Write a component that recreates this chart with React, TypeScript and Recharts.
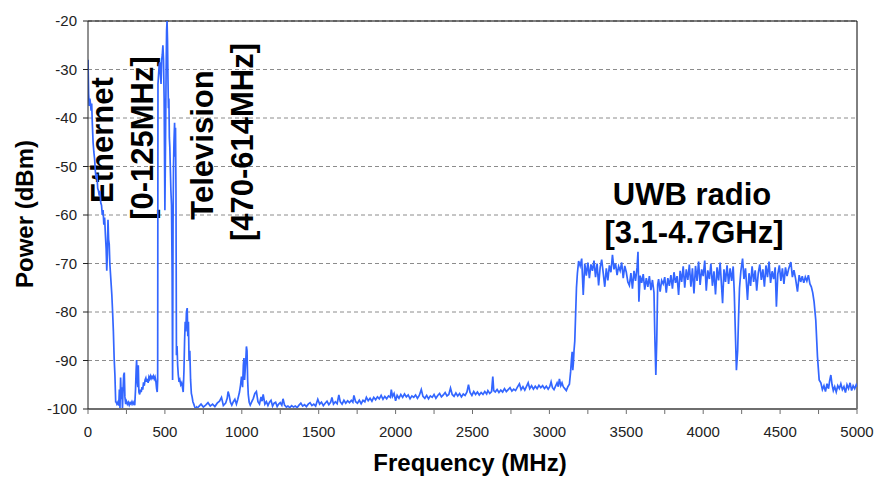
import React from 'react';
import { LineChart, Line, XAxis, YAxis, CartesianGrid, ReferenceLine, Customized } from 'recharts';

// Spectrum trace: [frequency MHz, power dBm]
const ethernetSeg: [number, number][] = [
  [0, -28], [4, -35], [8, -37.5], [12, -36], [16, -37], [20, -38.5], [24, -37], [28, -41], [33, -45], [38, -47],
  [43, -48.5], [48, -51], [53, -52.5], [58, -51.5], [63, -54.5], [68, -55], [73, -56], [78, -55], [83, -57.5],
  [88, -58], [93, -60], [98, -59], [103, -62], [108, -60.5], [113, -64], [118, -67], [122, -71.5], [126, -68],
  [130, -61], [134, -65], [138, -66], [142, -70], [146, -72], [150, -74], [155, -76.5], [160, -80], [165, -84],
  [170, -89.5], [175, -93], [180, -98.5],
];

const lowNoiseSeg: [number, number][] = [
  [182, -98.5], [188, -99], [194, -98.6], [200, -99.3], [204, -96], [208, -99.8], [212, -93.5], [216, -98],
  [220, -95.5], [224, -100], [228, -96], [232, -93], [236, -92.5], [240, -97.5], [245, -99], [250, -98.4],
  [256, -99], [262, -98.6], [268, -99.2], [274, -98.7], [280, -99], [286, -98.5], [292, -99], [298, -98.6],
  [304, -99.2], [309, -96], [313, -92], [316, -89.9], [320, -94], [324, -95.5], [327, -91], [331, -96.5],
  [336, -97], [341, -96], [346, -96.5], [351, -95.5], [356, -96], [361, -94.5], [366, -95.2], [371, -94],
  [376, -93.6], [381, -94.4], [386, -93.8], [391, -94.6], [396, -93.4], [401, -93.8], [406, -93.2], [411, -93.7],
  [416, -93.3], [421, -93.6], [426, -93.2], [431, -93.8], [436, -93.4], [441, -94.2], [446, -95.8], [450, -96.5],
  [453, -94],
];

const televisionSeg: [number, number][] = [
  [455, -33], [459, -31], [463, -29], [467, -28.5], [471, -31], [475, -33], [479, -28], [483, -27], [487, -25],
  [491, -28], [495, -36], [500, -59], [504, -45], [508, -30], [511, -22], [514, -20], [517, -24], [520, -32],
  [523, -38], [526, -36], [529, -44], [532, -46], [535, -50], [539, -55], [543, -58], [547, -72], [550, -94],
  [553, -62], [556, -50], [559, -45], [563, -41], [566, -48], [569, -42], [572, -55], [575, -88.9], [579, -87],
  [583, -91], [587, -93], [592, -94.4], [597, -94], [603, -95], [609, -94.6], [614, -95.5], [619, -96.5],
  [624, -92], [628, -86], [632, -82], [636, -84], [640, -80], [645, -79.2], [649, -85], [653, -82], [657, -90],
  [662, -88], [667, -94], [672, -96.8], [677, -97.5], [682, -98.5], [688, -99], [694, -99.6], [700, -100],
  [706, -99.6], [712, -99.8],
];

const midNoiseSeg: [number, number][] = [
  [720, -99.5], [735, -99], [750, -99.6], [765, -99.2], [780, -98.7], [795, -99.4], [810, -99], [825, -99.5],
  [840, -98.8], [855, -98.4], [868, -97.6], [880, -99.3], [895, -98.8], [905, -97.8], [911, -96.4], [918, -97.2],
  [926, -98.6], [935, -99.2], [945, -98.5], [955, -98], [965, -99], [974, -98], [985, -96.5], [992, -95],
  [998, -93.3], [1005, -95.5], [1010, -91], [1014, -89.5], [1018, -94], [1022, -92], [1026, -90], [1030, -87.1],
  [1034, -88], [1038, -94], [1042, -97], [1048, -98.6], [1055, -99.2], [1065, -98.5], [1075, -97.8], [1085, -96.8],
  [1095, -96.4], [1105, -98.5], [1115, -99], [1125, -97.5], [1132, -98.4], [1139, -97], [1150, -99], [1160, -98.5],
  [1170, -99.3], [1180, -98.6], [1190, -98.2], [1200, -99.4], [1210, -98.8], [1220, -98.6], [1230, -99.5],
  [1240, -99], [1250, -98.7], [1260, -99.2], [1268, -97.9], [1278, -99.2], [1290, -99.6], [1300, -99.4],
  [1312, -99.7], [1324, -99.3], [1336, -99.6], [1348, -99.4], [1360, -99.7], [1372, -99.2], [1384, -98.8],
  [1396, -99.4], [1408, -99.1], [1420, -99.5], [1432, -99], [1444, -98.7], [1456, -99.3], [1468, -99],
  [1480, -99.4], [1494, -98], [1506, -99], [1518, -98.6], [1530, -99.3], [1542, -98.8], [1554, -98.4],
  [1566, -99.1], [1578, -98.6], [1586, -97.6], [1596, -99], [1608, -98.5], [1620, -98.9], [1631, -97.1],
  [1640, -98.5], [1652, -99], [1664, -98.2], [1676, -98.8], [1688, -98.3], [1700, -98.7], [1712, -98.2],
  [1722, -98.6], [1729, -97.2], [1740, -98.5], [1752, -98.8], [1764, -98.2], [1776, -98.9], [1788, -98.2],
  [1800, -98.5], [1810, -97.6], [1822, -98.3], [1834, -97.8], [1846, -98.4], [1858, -97.6], [1870, -98.1],
  [1882, -97.5], [1894, -97.9], [1906, -97.2], [1918, -98], [1930, -97.4], [1942, -97.9], [1954, -97.3],
  [1966, -97.6], [1972, -96], [1980, -97.4], [1990, -96.8], [2000, -98.3], [2010, -97.2], [2022, -97.8],
  [2034, -97], [2046, -97.6], [2058, -96.9], [2070, -97.5], [2082, -97.1], [2094, -97.9], [2106, -97.3],
  [2118, -97.6], [2130, -97.1], [2142, -97.8], [2154, -97.2], [2167, -96], [2178, -97.4], [2190, -97.8],
  [2202, -97.2], [2214, -97.9], [2226, -97.3], [2238, -97.6], [2250, -97], [2262, -97.8], [2274, -97.2],
  [2286, -96.8], [2298, -97.5], [2310, -97.1], [2322, -96.6], [2334, -97.3], [2346, -97], [2357, -95.7],
  [2368, -97], [2380, -97.4], [2392, -96.7], [2404, -97.3], [2416, -96.8], [2428, -97.5], [2440, -96.9],
  [2452, -97.2], [2464, -96.5], [2474, -95], [2484, -96.6], [2496, -97.2], [2508, -96.4], [2520, -97],
  [2532, -96.5], [2544, -97.1], [2556, -96.6], [2568, -97], [2580, -96.4], [2592, -96.9], [2600, -96.2],
  [2612, -96.8], [2624, -96.4], [2632, -93.3], [2638, -96.2], [2648, -96.5], [2660, -96], [2672, -96.6],
  [2684, -96.1], [2696, -96.5], [2708, -95.8], [2720, -96.4], [2732, -96], [2744, -95.6], [2756, -96.3],
  [2768, -95.9], [2780, -96.2], [2792, -95.5], [2805, -94.8], [2816, -96], [2828, -95.4], [2840, -96.1],
  [2852, -95.3], [2862, -94.6], [2872, -95.8], [2884, -95.2], [2896, -95.9], [2908, -95.3], [2920, -95.8],
  [2932, -95.1], [2944, -95.6], [2956, -95.2], [2968, -95.8], [2980, -95.3], [2992, -95.9], [3002, -95.4],
  [3011, -94.4], [3020, -95.6], [3030, -96], [3040, -95.3], [3050, -94.6], [3058, -95.4], [3065, -93.8],
  [3074, -95.2], [3082, -94.6], [3090, -95.4], [3100, -95.8], [3110, -96.2], [3120, -95.4], [3130, -94.9],
];

const uwbRiseSeg: [number, number][] = [
  [3138, -92.3], [3143, -90], [3148, -88.2], [3152, -92], [3156, -90.5], [3160, -88], [3165, -86], [3170, -81],
  [3176, -75], [3182, -72],
];

const uwbBandSeg: [number, number][] = [
  [3190, -69.5], [3200, -70.5], [3210, -69], [3220, -76.5], [3230, -70], [3240, -72.5], [3250, -69.8], [3260, -73],
  [3270, -70.2], [3280, -71.5], [3290, -69.4], [3300, -72.8], [3310, -70], [3320, -74.5], [3330, -70.8],
  [3340, -69.2], [3350, -72], [3360, -74.8], [3370, -71], [3380, -73.5], [3390, -70.4], [3400, -71.8],
  [3410, -68.2], [3420, -71.2], [3430, -70], [3440, -72.4], [3450, -70.6], [3460, -71.5], [3470, -69.8],
  [3480, -73], [3490, -70.5], [3500, -71.8], [3510, -73.8], [3520, -74.5], [3530, -72], [3540, -75.2],
  [3550, -71.5], [3560, -73.6], [3570, -70.8], [3576, -67.6], [3582, -77.9], [3590, -72.5], [3600, -74],
  [3610, -72.2], [3620, -75.4], [3630, -73], [3640, -74.8], [3650, -72.6], [3660, -75.5], [3670, -73.4],
  [3680, -76], [3686, -85.7], [3692, -93], [3698, -86], [3704, -74.4], [3710, -73.2], [3720, -75.8],
  [3730, -73.5], [3740, -74.2], [3750, -72.8], [3760, -76], [3770, -73], [3780, -74.6], [3790, -72.4],
  [3800, -75.2], [3810, -71.8], [3820, -74], [3830, -72.6], [3840, -76.5], [3850, -71.5], [3860, -73.8],
  [3870, -70.6], [3880, -75], [3890, -71.2], [3900, -73.4], [3910, -70.2], [3920, -74.8], [3930, -71],
  [3940, -76.2], [3950, -70.5], [3960, -73.6], [3970, -69.6], [3980, -74.4], [3990, -71.2], [4000, -72.6],
  [4010, -69.4], [4020, -75.6], [4030, -71.4], [4040, -73.2], [4050, -70], [4060, -74.6], [4070, -71.6],
  [4080, -76.4], [4090, -70.8], [4100, -73.5], [4110, -69.8], [4120, -75], [4126, -78.2], [4135, -71.2],
  [4145, -73.8], [4155, -70.4], [4165, -74.2], [4175, -71], [4185, -73.6], [4195, -70.6], [4202, -76],
  [4208, -83], [4216, -92], [4224, -88], [4230, -81], [4236, -75.1], [4245, -71.5], [4256, -69], [4265, -73.2],
  [4275, -71], [4288, -77.5], [4298, -72], [4308, -74.6], [4318, -70.6], [4328, -73.8], [4338, -71.4],
  [4348, -75.6], [4358, -72], [4368, -70.2], [4378, -73.4], [4388, -71.2], [4398, -74.8], [4408, -70.4],
  [4418, -72.8], [4428, -69.6], [4438, -74], [4448, -71.6], [4458, -73.2], [4468, -70.8], [4476, -78.9],
  [4485, -72.2], [4495, -70.4], [4505, -73.6], [4515, -71], [4525, -74.2], [4535, -70.8], [4545, -72.6],
  [4555, -71.2], [4570, -69.7], [4580, -72.8], [4590, -71.4], [4600, -73], [4613, -75.8], [4624, -72.4],
  [4634, -73.8], [4644, -72.6], [4654, -74], [4664, -72.8], [4674, -73.6], [4684, -72.4], [4694, -74.2],
  [4703, -74.8], [4712, -76], [4721, -77.9],
];

const tailSeg: [number, number][] = [
  [4732, -81.7], [4743, -89.2], [4754, -94], [4765, -94.6], [4775, -96], [4785, -95.2], [4795, -96.4],
  [4805, -94.8], [4815, -95.8], [4822, -94.2], [4830, -93], [4838, -95], [4846, -96.2], [4855, -95.4],
  [4865, -96.5], [4875, -95.2], [4885, -95.8], [4895, -94.8], [4905, -96], [4915, -95.4], [4925, -96.6],
  [4935, -95], [4945, -95.8], [4955, -94.6], [4965, -96.2], [4975, -95.2], [4985, -95.8], [4995, -95],
  [5000, -95.4],
];

const xTicks = [0, 250, 500, 750, 1000, 1250, 1500, 1750, 2000, 2250, 2500, 2750, 3000, 3250, 3500, 3750, 4000, 4250, 4500, 4750, 5000];
const xLabelTicks = [0, 500, 1000, 1500, 2000, 2500, 3000, 3500, 4000, 4500, 5000];
const yTicks = [-100, -90, -80, -70, -60, -50, -40, -30, -20];

const data = [
  ...ethernetSeg, ...lowNoiseSeg, ...televisionSeg, ...midNoiseSeg, ...uwbRiseSeg, ...uwbBandSeg, ...tailSeg,
].map(([f, p]) => ({ f, p }));

const FONT = '"Liberation Sans", Arial, sans-serif';

const Annotations = () => (
  <g fontFamily={FONT} fontWeight="bold" fill="#000">
    <text x={113} y={140} fontSize={31} textAnchor="middle" transform="rotate(-90 113 140)">Ethernet</text>
    <text x={153} y={138} fontSize={31} textAnchor="middle" transform="rotate(-90 153 138)">[0-125MHz]</text>
    <text x={213} y={145} fontSize={31} textAnchor="middle" transform="rotate(-90 213 145)">Television</text>
    <text x={253} y={142} fontSize={31} textAnchor="middle" transform="rotate(-90 253 142)">[470-614MHz]</text>
    <text x={692} y={205} fontSize={31} textAnchor="middle">UWB radio</text>
    <text x={694} y={243} fontSize={31} textAnchor="middle">[3.1-4.7GHz]</text>
    <text x={33} y={214} fontSize={24} textAnchor="middle" transform="rotate(-90 33 214)">Power (dBm)</text>
    <text x={470} y={471} fontSize={24} textAnchor="middle">Frequency (MHz)</text>
  </g>
);

export default function App() {
  return (
    <div style={{ position: 'absolute', left: 0, top: 0, width: 876, height: 477, background: '#fff' }}>
      <LineChart width={876} height={477} data={data} margin={{ top: 21, right: 19, bottom: 28, left: 0 }}>
        <CartesianGrid horizontal vertical={false} stroke="#8c8c8c" strokeDasharray="4 3" />
        <XAxis
          type="number"
          dataKey="f"
          domain={[0, 5000]}
          ticks={xTicks}
          interval={0}
          height={40}
          tickSize={5}
          tickMargin={12}
          tickFormatter={(v: number) => (xLabelTicks.includes(v) ? String(v) : '')}
          axisLine={{ stroke: '#6e6e6e', strokeWidth: 2 }}
          tickLine={{ stroke: '#6e6e6e' }}
          tick={{ fill: '#222', fontSize: 15, fontFamily: FONT }}
          allowDataOverflow
        />
        <YAxis
          type="number"
          domain={[-100, -20]}
          ticks={yTicks}
          interval={0}
          width={88}
          tickSize={5}
          tickMargin={6}
          axisLine={{ stroke: '#222' }}
          tickLine={{ stroke: '#222' }}
          tick={{ fill: '#222', fontSize: 15, fontFamily: FONT }}
          allowDataOverflow
        />
        <ReferenceLine y={-20} stroke="#000" strokeWidth={1} />
        <ReferenceLine x={5000} stroke="#000" strokeWidth={1} />
        <Line
          type="linear"
          dataKey="p"
          stroke="#3366ff"
          strokeWidth={1.7}
          dot={false}
          isAnimationActive={false}
        />
        <Customized component={<Annotations />} />
      </LineChart>
    </div>
  );
}
